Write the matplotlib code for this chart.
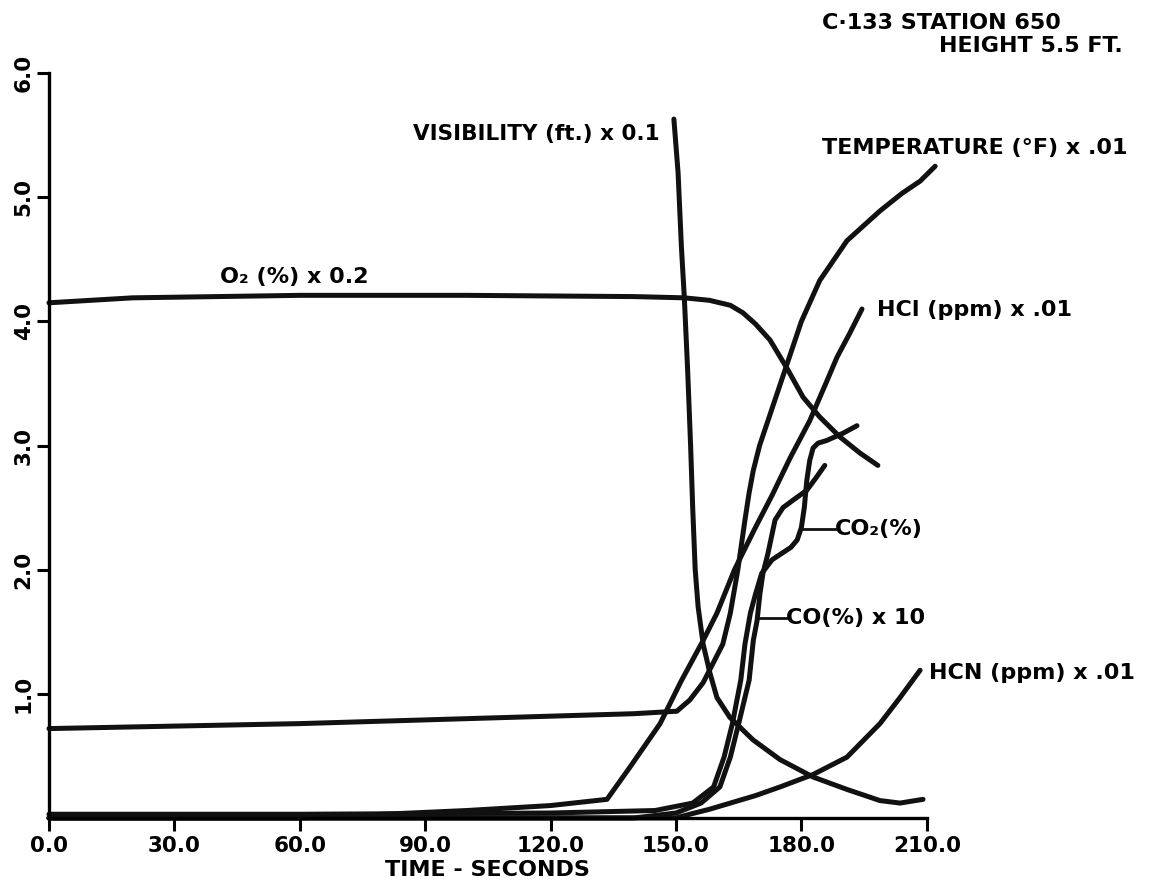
import matplotlib.pyplot as plt

plt.rcParams['font.family'] = ['DejaVu Sans']
plt.rcParams['font.weight'] = 'bold'

# time (s) / scaled values
o2_t = [0, 20, 60, 100, 140, 152, 158, 163, 166, 169, 172.5, 176.6, 180.4, 184.4, 189.2, 194, 198.3]
o2_v = [4.15, 4.19, 4.21, 4.21, 4.2, 4.19, 4.17, 4.13, 4.07, 3.98, 3.85, 3.62, 3.39, 3.23, 3.07, 2.94, 2.84]

vis_t = [149.5, 150.5, 151.3, 152.0, 152.8, 153.5, 154.0, 154.6, 155.3, 156.5, 158.1, 159.8, 162.9, 168.4, 174.9, 182.8, 190.9, 198.8, 203.6, 209.1]
vis_v = [5.63, 5.2, 4.6, 4.19, 3.6, 3.0, 2.5, 2.0, 1.7, 1.4, 1.17, 0.97, 0.81, 0.63, 0.47, 0.33, 0.23, 0.14, 0.12, 0.15]

temp_t = [0, 30, 60, 90, 120, 140, 150.2, 153.3, 156.5, 161.2, 163, 164.8, 166.5, 167.5, 168.5, 170, 171.5, 173.5, 176, 180, 184.4, 190.9, 198.8, 204, 208.4, 212]
temp_v = [0.72, 0.74, 0.76, 0.79, 0.82, 0.84, 0.86, 0.95, 1.09, 1.40, 1.65, 2.0, 2.4, 2.62, 2.8, 3.0, 3.15, 3.35, 3.6, 4.0, 4.33, 4.65, 4.89, 5.03, 5.13, 5.25]

hcl_t = [0, 60, 80, 100, 120, 133.5, 139, 146.2, 151.2, 156.5, 159.8, 164, 168.7, 173, 177.3, 182, 186.1, 188.5, 191.5, 194.5]
hcl_v = [0.0, 0.0, 0.03, 0.06, 0.1, 0.15, 0.41, 0.76, 1.1, 1.43, 1.65, 2.0, 2.32, 2.6, 2.9, 3.2, 3.52, 3.71, 3.9, 4.10]

co2_t = [0, 60, 120, 145, 154, 159, 161.5, 163.5, 165.5, 166.5, 167.8, 169, 170.5, 173, 177.5, 179, 180, 180.7, 181.3, 182, 182.8, 184, 186, 190, 193.3]
co2_v = [0.03, 0.03, 0.04, 0.06, 0.12, 0.25, 0.49, 0.76, 1.11, 1.4, 1.65, 1.8, 1.97, 2.08, 2.18, 2.24, 2.34, 2.5, 2.72, 2.88, 2.98, 3.02, 3.04, 3.1, 3.16]

co_t = [0, 140, 150, 156, 160.5, 163, 165, 167.5, 168.5, 169.4, 170.1, 170.8, 172, 173.7, 175.6, 178, 181.3, 183.5, 185.6]
co_v = [0.0, 0.0, 0.04, 0.12, 0.25, 0.49, 0.76, 1.11, 1.43, 1.59, 1.81, 1.97, 2.13, 2.4, 2.5, 2.56, 2.64, 2.74, 2.84]

hcn_t = [0, 150, 153.3, 158, 163, 169, 174.9, 182.8, 190.9, 198.8, 203.6, 208.4]
hcn_v = [0.0, 0.0, 0.03, 0.07, 0.12, 0.18, 0.25, 0.35, 0.49, 0.76, 0.97, 1.19]

x_ticks = [0, 30, 60, 90, 120, 150, 180, 210]
y_ticks = [1, 2, 3, 4, 5, 6]

fig = plt.figure(figsize=(11.52, 8.92), dpi=100)
ax = fig.add_axes([0.0425, 0.083, 0.762, 0.835])

ink = '#111111'
for t, v in [(o2_t, o2_v), (vis_t, vis_v), (temp_t, temp_v), (hcl_t, hcl_v),
             (co2_t, co2_v), (co_t, co_v), (hcn_t, hcn_v)]:
    ax.plot(t, v, color=ink, lw=3.6, solid_capstyle='round', solid_joinstyle='round',
            clip_on=False)

ax.set_xlim(0, 210)
ax.set_ylim(0, 6)
ax.spines['top'].set_visible(False)
ax.spines['right'].set_visible(False)
ax.spines['left'].set_linewidth(2.4)
ax.spines['bottom'].set_linewidth(2.4)
ax.set_xticks(x_ticks)
ax.set_xticklabels([f"{v:.1f}" for v in x_ticks], fontsize=15.5, fontweight='bold')
ax.set_yticks(y_ticks)
ax.set_yticklabels([f"{v:.1f}" for v in y_ticks], fontsize=15.5, fontweight='bold',
                   rotation=90, va='center')
ax.tick_params(axis='x', length=9, width=2.2, pad=4)
ax.tick_params(axis='y', length=9, width=2.2, pad=2)
ax.set_xlabel("TIME - SECONDS", fontsize=16, fontweight='bold', labelpad=3)

fs = 16
ax.text(146.2, 5.51, "VISIBILITY (ft.) x 0.1", fontsize=15.5, ha='right', va='center')
ax.text(185, 5.4, "TEMPERATURE (°F) x .01", fontsize=fs, ha='left', va='center', clip_on=False)
ax.text(41, 4.36, "O₂ (%) x 0.2", fontsize=fs, ha='left', va='center')
ax.text(198, 4.09, "HCl (ppm) x .01", fontsize=fs, ha='left', va='center', clip_on=False)
ax.plot([179.9, 188], [2.33, 2.33], color=ink, lw=2.0)
ax.text(188, 2.33, "CO₂(%)", fontsize=fs, ha='left', va='center')
ax.plot([169.4, 176.4], [1.61, 1.61], color=ink, lw=2.0)
ax.text(176.4, 1.61, "CO(%) x 10", fontsize=fs, ha='left', va='center')
ax.text(210.5, 1.17, "HCN (ppm) x .01", fontsize=fs, ha='left', va='center', clip_on=False)

fig.text(0.7135, 0.974, "C·133 STATION 650", fontsize=16, ha='left', va='center')
fig.text(0.975, 0.948, "HEIGHT 5.5 FT.", fontsize=16, ha='right', va='center')

fig.savefig("out.png", dpi=100)
